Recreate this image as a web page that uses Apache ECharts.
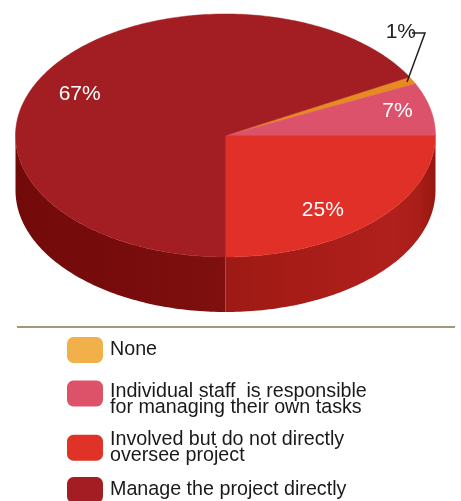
<!DOCTYPE html>
<html>
<head>
<meta charset="utf-8">
<script src="https://cdn.jsdelivr.net/npm/echarts@6/dist/echarts.min.js"></script>
<style>
  html, body { margin: 0; padding: 0; background: #ffffff; }
  #chart { width: 461px; height: 501px; }
</style>
</head>
<body>
<div id="chart"></div>
<script>
// Categories in legend order, with their shares (percent)
const categories = [
  'None',
  'Individual staff  is responsible\nfor managing their own tasks',
  'Involved but do not directly\noversee project',
  'Manage the project directly'
];
const shares = [1, 7, 25, 67];
const pctLabels = ['1%', '7%', '25%', '67%'];

// Colours of the slice tops and of the legend swatches
const topColors = ['#e88a22', '#dc526a', '#e03027', '#a31e22'];
const legendColors = ['#f2b04a', '#dd5169', '#e03226', '#a31d22'];
// Gradient stops for the outer wall of each slice (left to right)
const sideStops = [
  [[0, '#b8650f'], [1, '#c87418']],
  [[0, '#a83040'], [1, '#b83a4c']],
  [[0, '#9e1a14'], [0.35, '#a71c17'], [0.8, '#b0201c'], [0.92, '#aa1e18'], [1, '#95170f']],
  [[0, '#730a0a'], [0.55, '#780c0c'], [1, '#801010']]
];

// Pie geometry (tilted disc)
const FONT = '"Liberation Sans", Arial, sans-serif';
const pie = { cx: 225.5, cy: 135.5, rx: 210, ry: 121.5, depth: 55 };
const START_DEG = 331.2;           // angle where the first slice starts, clockwise from 3 o'clock
const LABEL_R = 0.79;
const labelNudge = [[0, 0], [10, -3], [-20, 7], [-3, 8]];
// Legend layout: top of each entry block, and extra space above the text lines
const legendTops = [337, 376, 429.5, 477];
const legendLead = [0, 12, 0, 0];

const total = shares.reduce((a, b) => a + b, 0);
const TWO_PI = Math.PI * 2;

function pt(a, r, dy) {
  return [pie.cx + r * pie.rx * Math.cos(a), pie.cy + r * pie.ry * Math.sin(a) + dy];
}
function arc(a0, a1, dy) {
  const n = Math.max(2, Math.ceil(Math.abs(a1 - a0) / (Math.PI / 180)));
  const out = [];
  for (let k = 0; k <= n; k++) out.push(pt(a0 + (a1 - a0) * k / n, 1, dy));
  return out;
}

function sliceAngles(i) {
  let before = 0;
  for (let k = 0; k < i; k++) before += shares[k];
  const a0 = START_DEG * Math.PI / 180 + before / total * TWO_PI;
  return [a0, a0 + shares[i] / total * TWO_PI];
}

function makeRender(i) {
  return function (params, api) {
    const value = api.value(0);
    const [a0raw] = sliceAngles(i);
    let a0 = a0raw % TWO_PI;
    const a1 = a0 + value / total * TWO_PI;
    const children = [];

    // Outer wall: only the front half (0..PI, and its next turn) faces the viewer
    [[0, Math.PI], [TWO_PI, TWO_PI + Math.PI]].forEach(function (win) {
      const s = Math.max(a0, win[0]);
      const e = Math.min(a1, win[1]);
      if (e > s) {
        const pts = arc(s, e, 0).concat(arc(e, s, pie.depth));
        children.push({
          type: 'polygon',
          z2: 1,
          shape: { points: pts },
          style: {
            fill: new echarts.graphic.LinearGradient(0, 0, 1, 0,
              sideStops[i].map(function (st) { return { offset: st[0], color: st[1] }; })),
            stroke: null
          }
        });
      }
    });

    // Top face
    const top = [[pie.cx, pie.cy]].concat(arc(a0, a1, 0));
    children.push({
      type: 'polygon',
      z2: 5,
      shape: { points: top },
      style: { fill: topColors[i], stroke: topColors[i], lineWidth: 0.5 }
    });

    // Percentage label
    const mid = (a0 + a1) / 2;
    if (value >= 3) {
      const p = pt(mid, LABEL_R, 0);
      children.push({
        type: 'text',
        z2: 10,
        style: {
          text: pctLabels[i],
          x: p[0] + labelNudge[i][0],
          y: p[1] + labelNudge[i][1],
          fill: '#ffffff',
          font: '21px ' + FONT,
          align: 'center',
          verticalAlign: 'middle'
        }
      });
    } else {
      const p0 = pt(mid, 0.97, 0);
      const p1 = [p0[0] + 18, p0[1] - 49];
      const p2 = [p1[0] - 13, p1[1]];
      children.push({
        type: 'polyline',
        z2: 10,
        shape: { points: [p0, p1, p2] },
        style: { stroke: '#231f20', lineWidth: 1.5, fill: null }
      });
      children.push({
        type: 'text',
        z2: 10,
        style: {
          text: pctLabels[i],
          x: p2[0] + 4,
          y: p2[1] - 1,
          fill: '#231f20',
          font: '21px ' + FONT,
          align: 'right',
          verticalAlign: 'middle'
        }
      });
    }
    return { type: 'group', children: children };
  };
}

const series = categories.map(function (name, i) {
  return {
    type: 'custom',
    name: name,
    coordinateSystem: 'none',
    silent: true,
    itemStyle: { color: legendColors[i] },
    renderItem: makeRender(i),
    data: [[shares[i]]]
  };
});

// One legend block per entry so each can sit at its own height
const legends = categories.map(function (name, i) {
  return {
    orient: 'vertical',
    left: 67,
    top: legendTops[i],
    padding: 0,
    itemWidth: 36,
    itemHeight: 26,
    icon: 'roundRect',
    selectedMode: false,
    data: [{ name: name, itemStyle: { color: legendColors[i] } }],
    formatter: function (n) {
      const lines = n.split('\n').map(function (line) { return '{t|' + line + '}'; });
      if (legendLead[i] > 0) lines.unshift('{s|\u00a0}');
      return lines.join('\n');
    },
    textStyle: {
      fontFamily: FONT,
      fontSize: 19.7,
      color: '#1a1a1a',
      padding: [0, 0, 0, 2],
      rich: {
        t: { fontFamily: FONT, fontSize: 19.7, lineHeight: 16.5, color: '#1a1a1a' },
        s: { fontSize: 2, lineHeight: legendLead[i] || 1 }
      }
    }
  };
});

const chart = echarts.init(document.getElementById('chart'), null, { renderer: 'canvas' });
chart.setOption({
  animation: false,
  backgroundColor: '#ffffff',
  legend: legends,
  graphic: [{
    type: 'line',
    shape: { x1: 17, y1: 327, x2: 455, y2: 327 },
    style: { stroke: '#a09878', lineWidth: 2 }
  }],
  series: series
});
</script>
</body>
</html>
